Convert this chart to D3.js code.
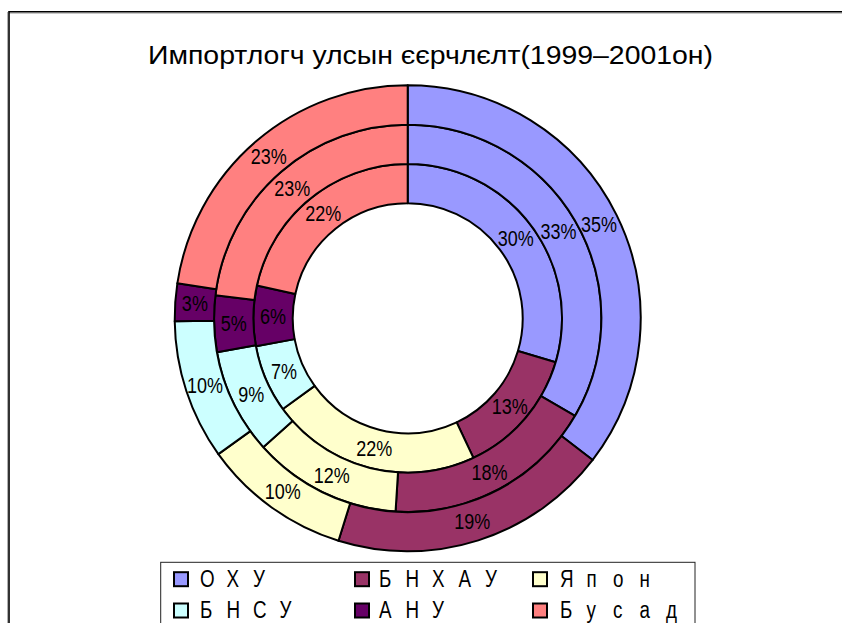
<!DOCTYPE html>
<html>
<head>
<meta charset="utf-8">
<script src="https://cdn.jsdelivr.net/npm/d3@7/dist/d3.min.js"></script>
<style>
  html, body { margin: 0; padding: 0; background: #fff; }
  svg { display: block; }
  text { font-family: "Liberation Sans", Arial, sans-serif; fill: #000; }
</style>
</head>
<body>
<svg id="chart" width="842" height="623"></svg>
<script>
// ---- data ----
const title = "Импортлогч улсын єєрчлєлт(1999–2001он)";
const categories = ["ОХУ", "БНХАУ", "Япон", "БНСУ", "АНУ", "Бусад"];
const colors = ["#9999FF", "#993366", "#FFFFCC", "#CCFFFF", "#660066", "#FF8080"];
const series1999 = [29.6, 13.4, 22.0, 7.1, 6.3, 21.6];   // inner ring
const series2000 = [33.4, 17.6, 12.4, 8.8, 4.7, 23.1];   // middle ring
const series2001 = [35.4, 19.4, 10.3, 9.7, 2.6, 22.6];   // outer ring
const rings = [series1999, series2000, series2001];

// ---- layout ----
const svg = d3.select("#chart");
const cx = 407.7, cy = 318.3;
const holeR = 115, outerR = 233;
const ringW = (outerR - holeR) / rings.length;
const narrow = 0.8;

// chart frame
svg.append("line").attr("x1", 7.5).attr("x2", 7.5).attr("y1", 12).attr("y2", 623)
  .attr("stroke", "#b0b0b0").attr("stroke-width", 1);
svg.append("line").attr("x1", 9).attr("x2", 842).attr("y1", 13.2).attr("y2", 13.2)
  .attr("stroke", "#b0b0b0").attr("stroke-width", 1);
svg.append("path").attr("d", "M9,623 V11.7 H842")
  .attr("fill", "none").attr("stroke", "#000").attr("stroke-width", 1.6);

// title
svg.append("text")
  .attr("x", 148).attr("y", 64)
  .attr("font-size", 25)
  .attr("textLength", 565).attr("lengthAdjust", "spacingAndGlyphs")
  .text(title);

const pie = d3.pie().sort(null).value(d => d);
const g = svg.append("g").attr("transform", `translate(${cx},${cy})`);

rings.forEach((vals, ri) => {
  const r0 = holeR + ri * ringW, r1 = r0 + ringW;
  const arc = d3.arc().innerRadius(r0).outerRadius(r1);
  g.append("g").selectAll("path").data(pie(vals)).enter().append("path")
    .attr("d", arc)
    .attr("fill", (d, i) => colors[i])
    .attr("stroke", "#000").attr("stroke-width", 2).attr("stroke-linejoin", "round");
});

rings.forEach((vals, ri) => {
  const r0 = holeR + ri * ringW, r1 = r0 + ringW;
  const arc = d3.arc().innerRadius(r0).outerRadius(r1);
  g.append("g").selectAll("text").data(pie(vals)).enter().append("text")
    .attr("transform", d => `translate(${arc.centroid(d)}) scale(${narrow},1)`)
    .attr("text-anchor", "middle")
    .attr("dominant-baseline", "central")
    .attr("font-size", 22.5)
    .text(d => Math.round(d.data) + "%");
});

// legend
const leg = svg.append("g");
leg.append("rect").attr("x", 160.7).attr("y", 562.3).attr("width", 534.3).attr("height", 80)
  .attr("fill", "#fff").attr("stroke", "#222").attr("stroke-width", 1);
const colMarkX = [173, 354, 532];
const colTextX = [200, 379, 560];
const rowY = [579.2, 610.5];
const pitch = 26.5;
categories.forEach((c, i) => {
  const col = i % 3, row = Math.floor(i / 3);
  leg.append("rect")
    .attr("x", colMarkX[col] + 1).attr("y", rowY[row] - 7)
    .attr("width", 14).attr("height", 14)
    .attr("fill", colors[i]).attr("stroke", "#000").attr("stroke-width", 2);
  Array.from(c).forEach((ch, k) => {
    leg.append("text")
      .attr("transform", `translate(${colTextX[col] + k * pitch},${rowY[row] + 7.5}) scale(${narrow},1)`)
      .attr("font-size", 23.5)
      .text(ch);
  });
});
</script>
</body>
</html>
